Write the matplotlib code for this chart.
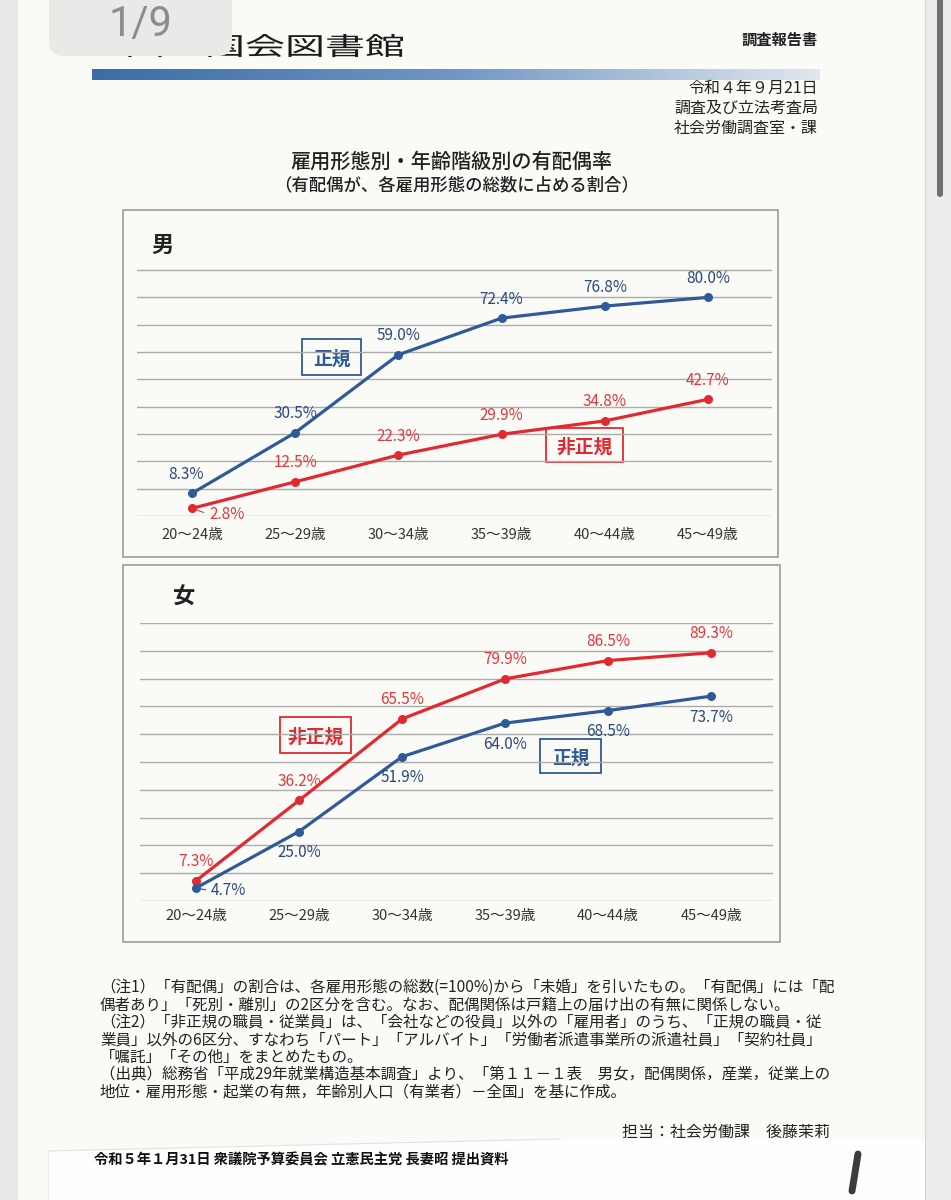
import numpy as np
import matplotlib
matplotlib.use('Agg')
import matplotlib.pyplot as plt
from matplotlib.patches import Rectangle, FancyBboxPatch, PathPatch, Polygon
from matplotlib.colors import LinearSegmentedColormap
from matplotlib.textpath import TextPath
from matplotlib.font_manager import FontProperties
from matplotlib.transforms import Affine2D

plt.rcParams['font.family'] = ['Noto Sans CJK JP', 'DejaVu Sans']

# data (有配偶率, %)
ages = ['20～24歳', '25～29歳', '30～34歳', '35～39歳', '40～44歳', '45～49歳']
men_regular = [8.3, 30.5, 59.0, 72.4, 76.8, 80.0]
men_nonregular = [2.8, 12.5, 22.3, 29.9, 34.8, 42.7]
women_regular = [4.7, 25.0, 51.9, 64.0, 68.5, 73.7]
women_nonregular = [7.3, 36.2, 65.5, 79.9, 86.5, 89.3]

header_lines = ['令和４年９月21日', '調査及び立法考査局', '社会労働調査室・課']
title = '雇用形態別・年齢階級別の有配偶率'
subtitle = '（有配偶が、各雇用形態の総数に占める割合）'
notes = [
    '（注1）「有配偶」の割合は、各雇用形態の総数(=100%)から「未婚」を引いたもの。「有配偶」には「配',
    '偶者あり」「死別・離別」の2区分を含む。なお、配偶関係は戸籍上の届け出の有無に関係しない。',
    '（注2）「非正規の職員・従業員」は、「会社などの役員」以外の「雇用者」のうち、「正規の職員・従',
    '業員」以外の6区分、すなわち「パート」「アルバイト」「労働者派遣事業所の派遣社員」「契約社員」',
    '「嘱託」「その他」をまとめたもの。',
    '（出典）総務省「平成29年就業構造基本調査」より、「第１１－１表　男女，配偶関係，産業，従業上の',
    '地位・雇用形態・起業の有無，年齢別人口（有業者）－全国」を基に作成。',
]

BLUE = '#2F5A9A'
RED = '#E2292F'
BLUE_TXT = '#2B4A7C'
RED_TXT = '#E3383C'
W, H = 951, 1200

fig = plt.figure(figsize=(W / 100, H / 100), dpi=100, facecolor='#fafaf7')

# background axes in pixel coordinates
bg = fig.add_axes([0, 0, 1, 1])
bg.set_axis_off()

# side margins of the viewer
bg.add_patch(Rectangle((0, 0), 18, H, fc='#e8e8ea', ec='none'))
bg.add_patch(Rectangle((925, 0), 26, H, fc='#ececef', ec='none'))
bg.plot([925, 925], [0, H], color='#d6d6d6', lw=0.8)
bg.add_patch(FancyBboxPatch((937, -10), 6, 207, boxstyle='round,pad=0,rounding_size=3',
                            fc='#707072', ec='none'))

# logo text (wide font) under the page badge
tp = TextPath((0, 0), '国立国会図書館', size=1, prop=FontProperties(family='Noto Sans CJK JP'))
tr = Affine2D().scale(40, -25).translate(125, 55) + bg.transData
bg.add_patch(PathPatch(tp, transform=tr, fc='#1a1a1a', ec='none'))
bg.add_patch(FancyBboxPatch((49, -20), 183, 76, boxstyle='round,pad=0,rounding_size=14',
                            fc='#e9e9e7', ec='none', zorder=3))
bg.text(140, 36, '1/9', fontsize=30, color='#8d8d8d', family='Roboto',
        ha='center', va='baseline', zorder=4)

bg.text(818, 40, '調査報告書', fontsize=11, fontweight='bold', color='#222222',
        ha='right', va='center')

# gradient rule
cmap = LinearSegmentedColormap.from_list('rule', ['#3a6da7', '#6f97c5', '#e1e7ef'])
bg.imshow(np.linspace(0, 1, 256)[None, :], cmap=cmap, extent=(92, 820, 80, 69),
          aspect='auto', interpolation='bilinear')

for k, s in enumerate(header_lines):
    bg.text(818, 88 + 20 * k, s, fontsize=11.5, color='#222222', ha='right', va='center')

bg.text(451, 162, title, fontsize=14.5, fontweight='medium', color='#222222',
        ha='center', va='center')
bg.text(457, 185, subtitle, fontsize=12.5, fontweight='medium', color='#222222',
        ha='center', va='center')

# chart frames
bg.add_patch(Rectangle((123, 210), 655, 347, fill=False, ec='#9c9c9c', lw=1.2))
bg.add_patch(Rectangle((123, 565), 657, 377, fill=False, ec='#9c9c9c', lw=1.2))
bg.text(163, 245, '男', fontsize=16, fontweight='bold', color='#222222', ha='center', va='center')
bg.text(184, 597, '女', fontsize=16, fontweight='bold', color='#222222', ha='center', va='center')

# series name boxes
boxes = [
    ((302, 339, 59, 36), '正規', BLUE),
    ((546, 428, 77, 34), '非正規', RED),
    ((280, 717, 71, 36), '非正規', RED),
    ((540, 739, 61, 34), '正規', BLUE),
]
for (x0, y0, bw, bh), s, c in boxes:
    bg.add_patch(Rectangle((x0, y0), bw, bh, fill=False, ec=c, lw=1.3))
    bg.text(x0 + bw / 2, y0 + bh / 2, s, fontsize=13.5, fontweight='bold', color=c,
            ha='center', va='center_baseline')

# notes
for k, s in enumerate(notes):
    bg.text(100, 987 + 17.5 * k, s, fontsize=11.2, color='#222222', ha='left', va='center')
bg.text(830, 1132, '担当：社会労働課　後藤茉莉', fontsize=11.5, color='#222222',
        ha='right', va='center')

# pasted label at the bottom
bg.add_patch(Polygon([(48, 1151), (560, 1139), (925, 1139), (925, H), (48, H)],
                     fc='#fefefe', ec='none'))
bg.plot([48, 560], [1151, 1139], color='#e2e2e2', lw=0.8)
bg.plot([48, 48], [1151, H], color='#ececec', lw=0.8)
bg.text(94, 1160, '令和５年１月31日 衆議院予算委員会 立憲民主党 長妻昭 提出資料',
        fontsize=10.3, fontweight='bold', color='#111111', ha='left', va='center')
bg.plot([858, 852], [1154, 1191], color='#3c3c3c', lw=5, solid_capstyle='round')

bg.set_xlim(0, W)
bg.set_ylim(H, 0)


def chart_axes(left, right, y0, y100, xmin, xmax):
    ax = fig.add_axes([left / W, 1 - y0 / H, (right - left) / W, (y0 - y100) / H])
    ax.set_facecolor('none')
    for sp in ax.spines.values():
        sp.set_visible(False)
    ax.set_xlim(xmin, xmax)
    ax.set_ylim(0, 100)
    return ax


def draw_series(ax, values, color, txt_color, offsets):
    x = np.arange(len(values))
    ax.plot(x, values, color=color, lw=2.3, marker='o', markersize=6.5,
            markeredgewidth=0, zorder=3)
    for i, v in enumerate(values):
        dx, dy = offsets[i]
        kw = {}
        ha = 'center'
        if dx > 10:
            ha = 'left'
            kw['arrowprops'] = dict(arrowstyle='-', color=txt_color, lw=0.8,
                                    shrinkA=2, shrinkB=4, relpos=(0, 0.5))
        ax.annotate(f'{v:.1f}%', (i, v), xytext=(dx, dy), textcoords='offset pixels',
                    ha=ha, va='center', fontsize=11, color=txt_color, zorder=4, **kw)


def style(ax, ticks, pad):
    ax.set_yticks(ticks)
    ax.yaxis.grid(True, color='#ababab', lw=1.0)
    ax.set_axisbelow(True)
    ax.tick_params(axis='y', left=False, labelleft=False)
    ax.set_xticks(range(len(ages)), ages)
    ax.tick_params(axis='x', length=0, pad=pad, labelsize=10.5, labelcolor='#333333')


# 男
ax1 = chart_axes(137, 772, 516, 242.7, -0.533, 5.62)
style(ax1, range(0, 100, 10), 9)
draw_series(ax1, men_regular, BLUE, BLUE_TXT, [(-6, 19)] + [(0, 19)] * 5)
draw_series(ax1, men_nonregular, RED, RED_TXT, [(17, -6)] + [(0, 19)] * 5)

# 女
ax2 = chart_axes(140, 773, 901, 623, -0.544, 5.60)
style(ax2, range(0, 101, 10), 6)
draw_series(ax2, women_nonregular, RED, RED_TXT, [(0, 19)] * 6)
draw_series(ax2, women_regular, BLUE, BLUE_TXT, [(15, -3)] + [(0, -21)] * 5)

fig.savefig('out.png', dpi=100, facecolor=fig.get_facecolor())
